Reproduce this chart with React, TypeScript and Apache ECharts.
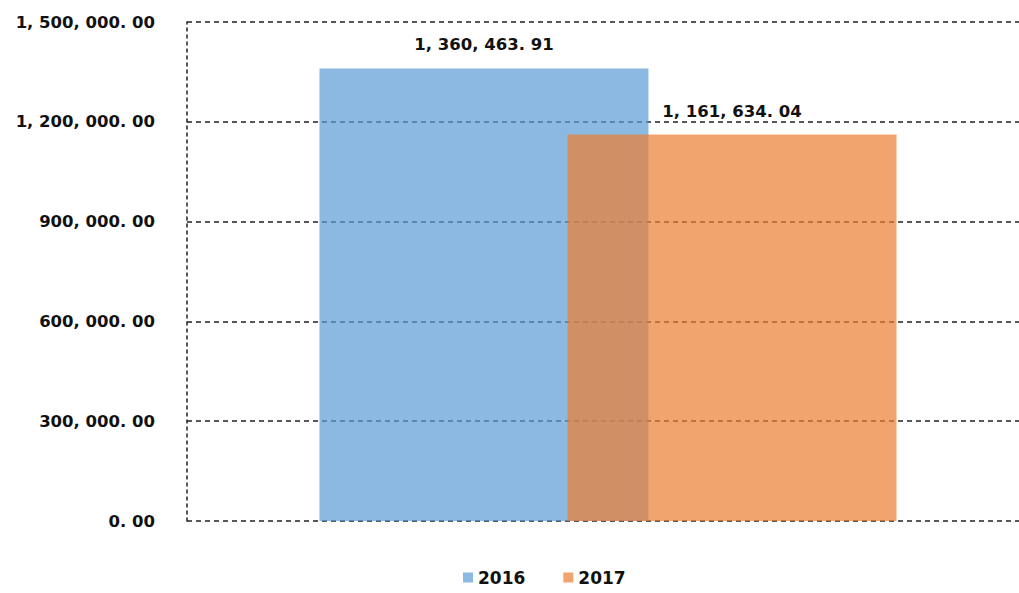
import React, { useEffect, useRef } from "react";
import * as echarts from "echarts";

const categories = [""];
const seriesNames = ["2016", "2017"];
const values2016 = [1360463.91];
const values2017 = [1161634.04];
const yTicks = [0, 300000, 600000, 900000, 1200000, 1500000];

const fmt = (v: number) => {
  const s = v.toFixed(2);
  const [i, d] = s.split(".");
  const withCommas = i.replace(/\B(?=(\d{3})+(?!\d))/g, ", ");
  return withCommas + ". " + d;
};

const FONT = "'DejaVu Sans', sans-serif";

export default function App() {
  const ref = useRef<HTMLDivElement>(null);
  useEffect(() => {
    if (!ref.current) return;
    const chart = echarts.init(ref.current, undefined, { renderer: "svg" });
    const labelStyle = {
      show: true,
      position: "top" as const,
      distance: 15,
      color: "#111",
      fontFamily: FONT,
      fontWeight: "bold" as const,
      fontSize: 16.5,
      formatter: (p: any) => fmt(p.value),
    };
    chart.setOption({
      animation: false,
      backgroundColor: "#fff",
      grid: { left: 187, right: 0, top: 22, height: 499 },
      legend: {
        data: seriesNames,
        top: 564,
        left: 458,
        itemWidth: 10,
        itemHeight: 10,
        itemGap: 38,
        icon: "rect",
        textStyle: { color: "#111", fontFamily: FONT, fontWeight: "bold", fontSize: 17 },
      },
      xAxis: {
        type: "category",
        data: categories,
        axisLine: { show: false },
        axisTick: { show: false },
        axisLabel: { show: false },
      },
      yAxis: {
        type: "value",
        min: yTicks[0],
        max: yTicks[yTicks.length - 1],
        interval: 300000,
        axisLine: { show: true, lineStyle: { color: "#222", type: [3, 4], width: 1.5 } },
        axisTick: { show: false },
        axisLabel: {
          margin: 32,
          color: "#111",
          fontFamily: FONT,
          fontWeight: "bold",
          fontSize: 16.5,
          formatter: (v: number) => fmt(v),
        },
        splitLine: { show: true, lineStyle: { color: "#222", type: [5, 4], width: 1.5 } },
      },
      series: [
        {
          name: seriesNames[0],
          type: "bar",
          data: values2016,
          barWidth: 329,
          barGap: "-24.6%",
          itemStyle: { color: "rgba(91,155,213,0.7)" },
          label: labelStyle,
        },
        {
          name: seriesNames[1],
          type: "bar",
          data: values2017,
          barWidth: 329,
          barGap: "-24.6%",
          itemStyle: { color: "rgba(237,125,49,0.7)" },
          label: labelStyle,
        },
      ],
    });
    return () => chart.dispose();
  }, []);
  return (
    <div
      style={{
        position: "absolute",
        left: 0,
        top: 0,
        width: 1019,
        height: 593,
        overflow: "hidden",
      }}
    >
      <div ref={ref} style={{ width: 1029, height: 593 }} />
    </div>
  );
}
